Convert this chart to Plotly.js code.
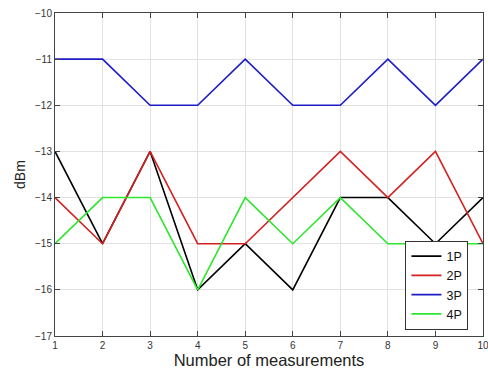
<!DOCTYPE html>
<html><head><meta charset="utf-8">
<script src="https://cdn.plot.ly/plotly-3.0.1.min.js"></script>
<style>html,body{margin:0;padding:0;background:#fff}#chart{width:488px;height:372px}</style>
</head><body><div id="chart"></div>
<script>
const measurements = [1,2,3,4,5,6,7,8,9,10];
const p1 = [-13,-15,-13,-16,-15,-16,-14,-14,-15,-14];
const p2 = [-14,-15,-13,-15,-15,-14,-13,-14,-13,-15];
const p3 = [-11,-11,-12,-12,-11,-12,-12,-11,-12,-11];
const p4 = [-15,-14,-14,-16,-14,-15,-14,-15,-15,-15];
const names = ['1P','2P','3P','4P'];
const colors = ['#000000','#d42020','#1c1cc8','#2ee62e'];
const series = [p1,p2,p3,p4];
const traces = series.map((s,i)=>({x:measurements,y:s,type:'scatter',mode:'lines',name:names[i],line:{color:colors[i],width:1.6}}));
const axisCommon = {showline:true,linecolor:'#444',linewidth:1,mirror:'ticks',ticks:'inside',ticklen:5,tickcolor:'#444',
  showgrid:true,gridcolor:'#e2e2e2',gridwidth:1,zeroline:false,ticklabeloverflow:'allow',
  tickfont:{family:'Arial, Liberation Sans, sans-serif',size:10,color:'#333'}};
const layout = {
  width:488,height:372,margin:{l:55,r:5,t:13,b:36},
  paper_bgcolor:'#fff',plot_bgcolor:'#fff',
  font:{family:'Arial, Liberation Sans, sans-serif',color:'#222'},
  xaxis:Object.assign({},axisCommon,{range:[1,10],tickvals:measurements,ticktext:measurements.map(String),
    title:{text:'Number of measurements',font:{size:16.5,color:'#222'},standoff:2}}),
  yaxis:Object.assign({},axisCommon,{range:[-17,-10],dtick:1,tick0:-17,
    title:{text:'dBm',font:{size:14,color:'#222'},standoff:6}}),
  showlegend:true,
  legend:{x:0.966,xanchor:'right',y:0.02,yanchor:'bottom',bgcolor:'#fff',bordercolor:'#333',borderwidth:1,
    font:{size:12.5,color:'#111'},tracegroupgap:0,itemwidth:30}
};
Plotly.newPlot('chart',traces,layout,{displayModeBar:false,staticPlot:true});
</script></body></html>
